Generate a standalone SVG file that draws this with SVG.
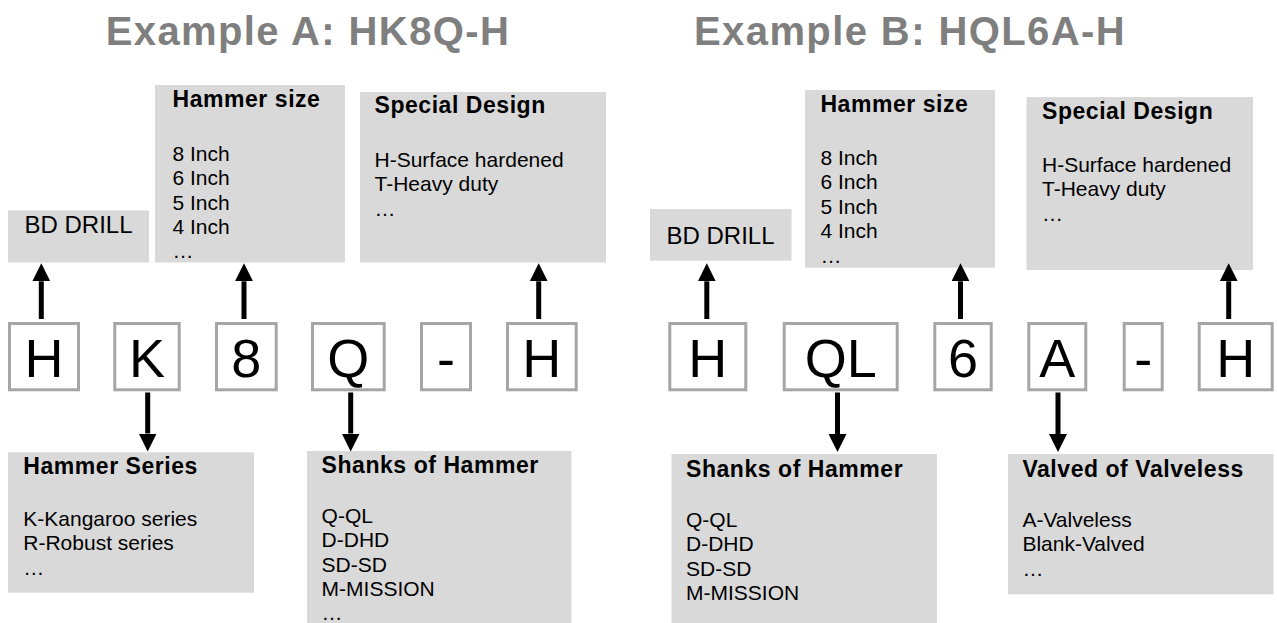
<svg xmlns="http://www.w3.org/2000/svg" width="1277" height="623" viewBox="0 0 1277 623">
<style>
.title{font-family:"Liberation Sans",Arial,sans-serif;font-weight:bold;font-size:40px;letter-spacing:1.4px;fill:#7f7f7f;text-anchor:middle}
.box{fill:#d9d9d9;stroke:none}
.hd{font-family:"Liberation Sans",Arial,sans-serif;font-weight:bold;font-size:23px;letter-spacing:0.55px;fill:#000}
.bd{font-family:"Liberation Sans",Arial,sans-serif;font-size:21px;fill:#000}
.big{font-family:"Liberation Sans",Arial,sans-serif;font-size:24px;fill:#000}
.lb{fill:#fff;stroke:#a6a6a6;stroke-width:3}
.lt{font-family:"Liberation Sans",Arial,sans-serif;font-size:54px;fill:#000;text-anchor:middle}
.ar{stroke:#000;stroke-width:5;fill:none;marker-end:url(#ah)}
</style>
<defs>
<marker id="ah" markerUnits="userSpaceOnUse" markerWidth="18" markerHeight="18" viewBox="0 0 18 18" refX="0" refY="9" orient="auto">
<path d="M0,0 L18,9 L0,18 Z" fill="#000"/>
</marker>
</defs>
<rect width="1277" height="623" fill="#fff"/>
<text class="title" x="308" y="45">Example A: HK8Q-H</text>
<text class="title" x="910" y="45">Example B: HQL6A-H</text>

<!-- Example A info boxes -->
<g id="a-bddrill">
<rect class="box" x="8" y="210.5" width="141" height="52"/>
<text class="big" x="24.5" y="233">BD DRILL</text>
</g>
<g id="a-size">
<rect class="box" x="155" y="85" width="190" height="177.5"/>
<text class="hd" x="172.5" y="106.7">Hammer size</text>
<text class="bd" x="172.5" y="160.7">8 Inch</text>
<text class="bd" x="172.5" y="185.1">6 Inch</text>
<text class="bd" x="172.5" y="209.5">5 Inch</text>
<text class="bd" x="172.5" y="233.9">4 Inch</text>
<text class="bd" x="172.5" y="258.3">…</text>
</g>
<g id="a-special">
<rect class="box" x="360" y="92" width="246" height="170.5"/>
<text class="hd" x="374.5" y="113.3">Special Design</text>
<text class="bd" x="374.5" y="166.7">H-Surface hardened</text>
<text class="bd" x="374.5" y="191.1">T-Heavy duty</text>
<text class="bd" x="374.5" y="215.5">…</text>
</g>
<g id="a-series">
<rect class="box" x="8" y="452.3" width="246" height="140.4"/>
<text class="hd" x="23.3" y="474">Hammer Series</text>
<text class="bd" x="23.3" y="525.7">K-Kangaroo series</text>
<text class="bd" x="23.3" y="550.1">R-Robust series</text>
<text class="bd" x="23.3" y="574.5">…</text>
</g>
<g id="a-shanks">
<rect class="box" x="307" y="451" width="264.5" height="175"/>
<text class="hd" x="321.6" y="473.3">Shanks of Hammer</text>
<text class="bd" x="321.6" y="522.7">Q-QL</text>
<text class="bd" x="321.6" y="547.1">D-DHD</text>
<text class="bd" x="321.6" y="571.5">SD-SD</text>
<text class="bd" x="321.6" y="595.9">M-MISSION</text>
<text class="bd" x="321.6" y="620.3">…</text>
</g>

<!-- Example A letters -->
<g id="a-l1"><rect class="lb" x="9.5" y="323.5" width="69" height="66.3"/><text class="lt" x="44" y="376.7">H</text></g>
<g id="a-l2"><rect class="lb" x="114.8" y="323.5" width="64.4" height="66.3"/><text class="lt" x="147" y="376.7">K</text></g>
<g id="a-l3"><rect class="lb" x="216.5" y="323.5" width="59.7" height="66.3"/><text class="lt" x="246.3" y="376.7">8</text></g>
<g id="a-l4"><rect class="lb" x="312.5" y="323.5" width="71.7" height="66.3"/><text class="lt" x="348.3" y="376.7">Q</text></g>
<g id="a-l5"><rect class="lb" x="421.5" y="323.5" width="49" height="66.3"/><text class="lt" x="446" y="376.7">-</text></g>
<g id="a-l6"><rect class="lb" x="507.5" y="323.5" width="68.7" height="66.3"/><text class="lt" x="541.8" y="376.7">H</text></g>

<!-- Example B info boxes -->
<g id="b-bddrill">
<rect class="box" x="650" y="209" width="141.5" height="51.7"/>
<text class="big" x="666.5" y="244">BD DRILL</text>
</g>
<g id="b-size">
<rect class="box" x="805" y="90" width="190" height="177.7"/>
<text class="hd" x="820.4" y="111.7">Hammer size</text>
<text class="bd" x="820.4" y="165">8 Inch</text>
<text class="bd" x="820.4" y="189.4">6 Inch</text>
<text class="bd" x="820.4" y="213.8">5 Inch</text>
<text class="bd" x="820.4" y="238.2">4 Inch</text>
<text class="bd" x="820.4" y="262.6">…</text>
</g>
<g id="b-special">
<rect class="box" x="1026.5" y="97" width="226.5" height="173"/>
<text class="hd" x="1042" y="119">Special Design</text>
<text class="bd" x="1042" y="171.7">H-Surface hardened</text>
<text class="bd" x="1042" y="196.1">T-Heavy duty</text>
<text class="bd" x="1042" y="220.5">…</text>
</g>
<g id="b-shanks">
<rect class="box" x="671.5" y="454" width="265.5" height="172"/>
<text class="hd" x="686" y="476.7">Shanks of Hammer</text>
<text class="bd" x="686" y="526.7">Q-QL</text>
<text class="bd" x="686" y="551.1">D-DHD</text>
<text class="bd" x="686" y="575.5">SD-SD</text>
<text class="bd" x="686" y="599.9">M-MISSION</text>
</g>
<g id="b-valved">
<rect class="box" x="1008" y="454" width="265.5" height="140.3"/>
<text class="hd" x="1022.4" y="476.7">Valved of Valveless</text>
<text class="bd" x="1022.4" y="526.7">A-Valveless</text>
<text class="bd" x="1022.4" y="551.1">Blank-Valved</text>
<text class="bd" x="1022.4" y="575.5">…</text>
</g>

<!-- Example B letters -->
<g id="b-l1"><rect class="lb" x="669.8" y="323.5" width="76" height="66.3"/><text class="lt" x="707.8" y="376.7">H</text></g>
<g id="b-l2"><rect class="lb" x="784.2" y="323.5" width="113" height="66.3"/><text class="lt" x="840.7" y="376.7">QL</text></g>
<g id="b-l3"><rect class="lb" x="934.8" y="323.5" width="56.4" height="66.3"/><text class="lt" x="963" y="376.7">6</text></g>
<g id="b-l4"><rect class="lb" x="1028.8" y="323.5" width="57" height="66.3"/><text class="lt" x="1057.3" y="376.7">A</text></g>
<g id="b-l5"><rect class="lb" x="1124.2" y="323.5" width="38" height="66.3"/><text class="lt" x="1143.2" y="376.7">-</text></g>
<g id="b-l6"><rect class="lb" x="1199.2" y="323.5" width="73" height="66.3"/><text class="lt" x="1235.7" y="376.7">H</text></g>

<g id="connectors">
<line class="ar" x1="41.3" y1="319" x2="41.3" y2="281.3"/>
<line class="ar" x1="244" y1="319" x2="244" y2="281.3"/>
<line class="ar" x1="538.7" y1="319" x2="538.7" y2="281.3"/>
<line class="ar" x1="147.7" y1="392.5" x2="147.7" y2="433.5"/>
<line class="ar" x1="350.7" y1="392.5" x2="350.7" y2="433.5"/>
<line class="ar" x1="706.8" y1="319" x2="706.8" y2="281.3"/>
<line class="ar" x1="960.5" y1="319" x2="960.5" y2="281.3"/>
<line class="ar" x1="1228.7" y1="319" x2="1228.7" y2="281.3"/>
<line class="ar" x1="837.5" y1="392.5" x2="837.5" y2="434"/>
<line class="ar" x1="1058" y1="392.5" x2="1058" y2="434"/>
</g>
</svg>
